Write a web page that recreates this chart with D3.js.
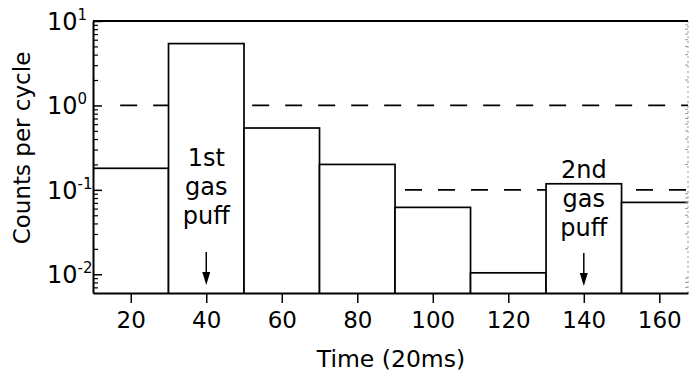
<!DOCTYPE html>
<html>
<head>
<meta charset="utf-8">
<script src="https://cdn.jsdelivr.net/npm/d3@7"></script>
<style>
  html, body { margin: 0; padding: 0; background: #fff; }
  svg text { font-family: "DejaVu Sans", sans-serif; fill: #000; }
</style>
</head>
<body>
<svg id="chart" width="689" height="375"></svg>
<script>
// Histogram bins: start / end of each time bin (units of 20 ms) and counts per cycle
const binStart = [10, 30, 50, 70, 90, 110, 130, 150];
const binEnd   = [30, 50, 70, 90, 110, 130, 150, 170];
const counts   = [0.18, 5.4, 0.54, 0.20, 0.062, 0.0104, 0.118, 0.071];

const xTicks = [20, 40, 60, 80, 100, 120, 140, 160];
const yMajorTicks = [10, 1, 0.1, 0.01];
const yTickExponents = ["1", "0", "-1", "-2"];

// Dashed reference levels and where they start along the time axis
const refLevels = [1, 0.1];
const refStart = [17.2, 10];

// Gas puff annotations
const puffTimes = [40, 140];
const puffLabels = [["1st", "gas", "puff"], ["2nd", "gas", "puff"]];

const width = 689, height = 375;
const margin = { top: 21, right: 1, bottom: 82, left: 93 };
const innerW = width - margin.left - margin.right;
const innerH = height - margin.top - margin.bottom;

const svg = d3.select('#chart');

const x = d3.scaleLinear().domain([10, 167.6]).range([0, innerW]);
const y = d3.scaleLog().domain([0.006, 10]).range([innerH, 0]);

const g = svg.append('g').attr('transform', `translate(${margin.left},${margin.top})`);

g.append('defs').append('clipPath').attr('id', 'plot-clip')
  .append('rect').attr('width', innerW).attr('height', innerH);

const plot = g.append('g').attr('clip-path', 'url(#plot-clip)');

// Reference dashed lines (drawn first, bars cover them)
refLevels.forEach((lvl, i) => {
  plot.append('line')
    .attr('x1', x(refStart[i])).attr('x2', x(167.6))
    .attr('y1', y(lvl)).attr('y2', y(lvl))
    .attr('stroke', '#000').attr('stroke-width', 1.6)
    .attr('stroke-dasharray', '17,16')
    .attr('stroke-dashoffset', i === 1 ? 18 : 0);
});

// Bars
const bins = binStart.map((s, i) => ({ s, e: binEnd[i], v: counts[i] }));
plot.selectAll('rect.bar')
  .data(bins)
  .enter().append('rect')
  .attr('class', 'bar')
  .attr('x', d => x(d.s))
  .attr('y', d => y(d.v))
  .attr('width', d => x(d.e) - x(d.s))
  .attr('height', d => innerH - y(d.v) + 2)
  .attr('fill', '#fff')
  .attr('stroke', '#000')
  .attr('stroke-width', 1.7);

// Minor tick values 2..9 in each decade inside the domain
const minorVals = [];
[0.001, 0.01, 0.1, 1].forEach(dec => {
  for (let k = 2; k <= 9; k++) minorVals.push(dec * k);
});
const minorIn = minorVals.filter(v => v > 0.006 && v < 10);

// Right frame: faint dotted with inward minor ticks
g.append('line')
  .attr('x1', innerW).attr('x2', innerW).attr('y1', 0).attr('y2', innerH)
  .attr('stroke', '#999').attr('stroke-width', 1)
  .attr('stroke-dasharray', '2,3');
g.selectAll('line.rminor')
  .data(minorIn)
  .enter().append('line')
  .attr('class', 'rminor')
  .attr('x1', innerW).attr('x2', innerW - 3)
  .attr('y1', d => y(d)).attr('y2', d => y(d))
  .attr('stroke', '#999').attr('stroke-width', 1);

// Top frame
g.append('line')
  .attr('x1', 0).attr('x2', innerW).attr('y1', 0).attr('y2', 0)
  .attr('stroke', '#000').attr('stroke-width', 2);

// X axis
const xAxis = g.append('g')
  .attr('transform', `translate(0,${innerH})`)
  .call(d3.axisBottom(x).tickValues(xTicks).tickSize(10).tickSizeOuter(0).tickPadding(9));
xAxis.select('.domain').attr('stroke', '#000').attr('stroke-width', 2);
xAxis.selectAll('.tick line').attr('stroke', '#000').attr('stroke-width', 1.5);
xAxis.selectAll('.tick text')
  .attr('font-size', 23)
  .style('font-family', '"DejaVu Sans", sans-serif')
  .attr('fill', '#000');

// Y axis: minor ticks inside, major ticks inside with superscript labels
const yAxis = g.append('g')
  .call(d3.axisRight(y).tickValues(minorIn).tickSize(5).tickSizeOuter(0).tickFormat(''));
yAxis.select('.domain').attr('stroke', '#000').attr('stroke-width', 2);
yAxis.selectAll('.tick line').attr('stroke', '#000').attr('stroke-width', 1.2);

const yMajor = g.append('g')
  .call(d3.axisRight(y).tickValues(yMajorTicks).tickSize(9).tickSizeOuter(0).tickFormat(''));
yMajor.select('.domain').remove();
yMajor.selectAll('.tick line').attr('stroke', '#000').attr('stroke-width', 1.5);

const yLabels = g.selectAll('text.ylab')
  .data(yMajorTicks)
  .enter().append('text')
  .attr('class', 'ylab')
  .attr('x', -46)
  .attr('y', d => y(d) + 9)
  .attr('font-size', 24);
yLabels.append('tspan').text('10');
yLabels.append('tspan')
  .attr('dy', -10)
  .attr('font-size', 15)
  .text((d, i) => yTickExponents[i]);

// Axis titles
svg.append('text')
  .attr('x', 391)
  .attr('y', 367)
  .attr('text-anchor', 'middle')
  .attr('font-size', 23.5)
  .text('Time (20ms)');

svg.append('text')
  .attr('transform', `translate(30,148) rotate(-90)`)
  .attr('text-anchor', 'middle')
  .attr('font-size', 23)
  .text('Counts per cycle');

// Gas puff annotations: three text lines and a down arrow at each puff time
puffTimes.forEach((t, i) => {
  const startY = i === 0 ? 145 : 157;
  puffLabels[i].forEach((txt, j) => {
    g.append('text')
      .attr('x', x(t))
      .attr('y', startY + j * 29)
      .attr('text-anchor', 'middle')
      .attr('font-size', 24)
      .text(txt);
  });
  const top = i === 0 ? 231 : 232;
  g.append('line')
    .attr('x1', x(t)).attr('x2', x(t))
    .attr('y1', top).attr('y2', top + 24)
    .attr('stroke', '#000').attr('stroke-width', 1.5);
  g.append('path')
    .attr('d', `M${x(t) - 4},${top + 20} L${x(t) + 4},${top + 20} L${x(t)},${top + 33} Z`)
    .attr('fill', '#000');
});
</script>
</body>
</html>
